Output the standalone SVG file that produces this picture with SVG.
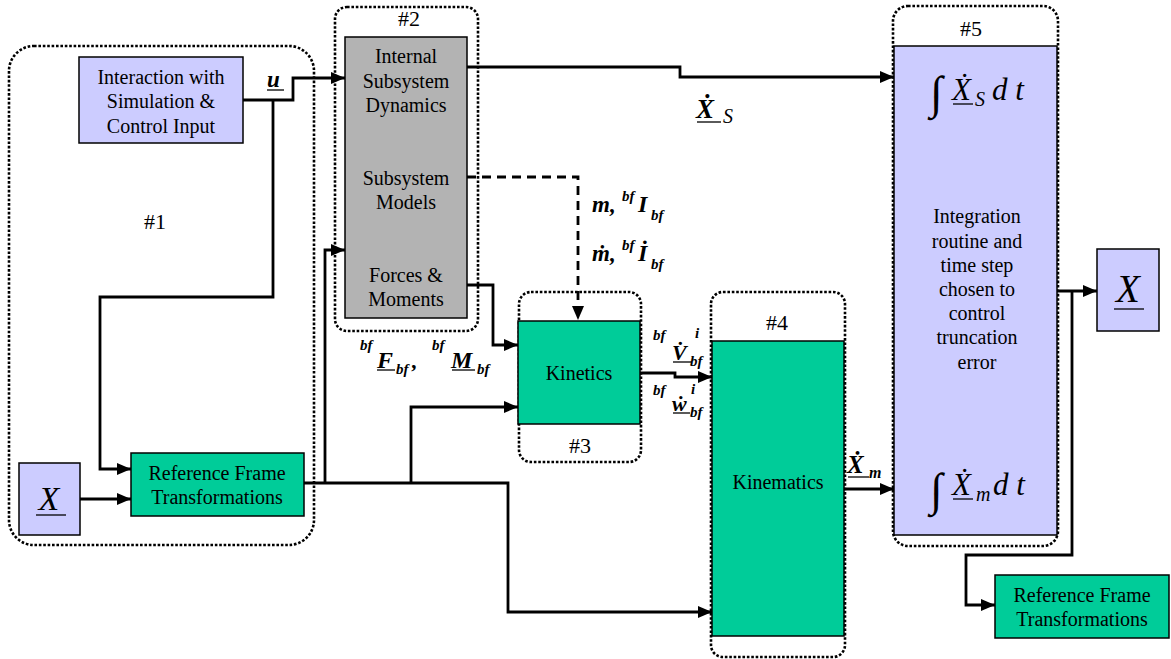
<svg xmlns="http://www.w3.org/2000/svg" width="1171" height="659" viewBox="0 0 1171 659">
<defs>
<marker id="ah" viewBox="0 0 14 12" refX="14" refY="6" markerWidth="14" markerHeight="12" markerUnits="userSpaceOnUse" orient="auto">
<path d="M0,0 L14,6 L0,12 z" fill="#000"/>
</marker>
</defs>
<style>
.dot{fill:none;stroke:#000;stroke-width:2.6;stroke-dasharray:2.6 1.8;}
.blue{fill:#CCCCFF;stroke:#000;stroke-width:1.5;}
.green{fill:#00CC99;stroke:#000;stroke-width:1.5;}
.gray{fill:#B3B3B3;stroke:#000;stroke-width:1.5;}
.t{font-family:"Liberation Serif","Times New Roman",serif;font-size:20px;fill:#000;text-anchor:middle;}
.lbl{font-family:"Liberation Serif","Times New Roman",serif;font-size:22px;fill:#000;text-anchor:middle;}
.m{font-family:"Liberation Serif","Times New Roman",serif;font-style:italic;fill:#000;}
.b{font-weight:bold;}
.c{fill:none;stroke:#000;stroke-width:2.8;}
.ul{stroke:#000;stroke-width:1.3;}
</style>

<g id="group1">
<rect class="dot" x="9" y="46" width="305" height="499" rx="25"/>
<text class="lbl" x="155" y="229">#1</text>
</g>
<g id="group2">
<rect class="dot" x="335" y="7" width="143" height="324" rx="12"/>
<text class="lbl" x="409" y="26">#2</text>
</g>
<g id="group3">
<rect class="dot" x="519" y="292" width="122" height="170" rx="12"/>
<text class="lbl" x="580" y="453">#3</text>
</g>
<g id="group4">
<rect class="dot" x="711" y="292" width="134" height="365" rx="12"/>
<text class="lbl" x="777" y="330">#4</text>
</g>
<g id="group5">
<rect class="dot" x="893" y="6" width="165" height="540" rx="15"/>
<text class="lbl" x="971" y="36">#5</text>
</g>

<g id="interaction">
<rect class="blue" x="79" y="57" width="164" height="86"/>
<text class="t" x="161" y="84">Interaction with</text>
<text class="t" x="161" y="108">Simulation &amp;</text>
<text class="t" x="161" y="133">Control Input</text>
</g>

<g id="xin">
<rect class="blue" x="19" y="463" width="61" height="72"/>
<text class="m" x="49" y="510" font-size="34" text-anchor="middle">X</text>
<line class="ul" x1="36" y1="515" x2="66" y2="515"/>
</g>

<g id="reftrans1">
<rect class="green" x="131" y="453" width="173" height="63"/>
<text class="t" x="217" y="480">Reference Frame</text>
<text class="t" x="217" y="504">Transformations</text>
</g>

<g id="subsystems">
<rect class="gray" x="345" y="37" width="122" height="281"/>
<text class="t" x="406" y="63">Internal</text>
<text class="t" x="406" y="88">Subsystem</text>
<text class="t" x="406" y="112">Dynamics</text>
<text class="t" x="406" y="185">Subsystem</text>
<text class="t" x="406" y="209">Models</text>
<text class="t" x="406" y="282">Forces &amp;</text>
<text class="t" x="406" y="306">Moments</text>
</g>

<g id="kinetics">
<rect class="green" x="518" y="321" width="122" height="103" stroke-width="2"/>
<text class="t" x="579" y="380">Kinetics</text>
</g>

<g id="kinematics">
<rect class="green" x="712" y="341" width="132" height="295" stroke-width="1"/>
<text class="t" x="778" y="489">Kinematics</text>
</g>

<g id="integration">
<rect class="blue" x="894" y="46" width="163" height="489" stroke-width="1"/>
<text class="m" x="930" y="108" font-size="46" font-style="normal">∫</text>
<text class="m" x="952" y="100" font-size="31">Ẋ</text>
<line class="ul" x1="953" y1="104" x2="973" y2="104"/>
<text class="m" x="975" y="106" font-size="20">S</text>
<text class="m" x="992" y="100" font-size="31">d t</text>
<text class="t" x="977" y="223">Integration</text>
<text class="t" x="977" y="248">routine and</text>
<text class="t" x="977" y="272">time step</text>
<text class="t" x="977" y="296">chosen to</text>
<text class="t" x="977" y="320">control</text>
<text class="t" x="977" y="344">truncation</text>
<text class="t" x="977" y="369">error</text>
<text class="m" x="930" y="505" font-size="46" font-style="normal">∫</text>
<text class="m" x="952" y="495" font-size="31">Ẋ</text>
<line class="ul" x1="953" y1="499" x2="973" y2="499"/>
<text class="m" x="976" y="501" font-size="20">m</text>
<text class="m" x="993" y="495" font-size="31">d t</text>
</g>

<g id="xout">
<rect class="blue" x="1097" y="249" width="62" height="82"/>
<text class="m" x="1128" y="302" font-size="39" text-anchor="middle">X</text>
<line class="ul" x1="1114" y1="309" x2="1144" y2="309"/>
</g>

<g id="reftrans2">
<rect class="green" x="995" y="575" width="174" height="63"/>
<text class="t" x="1082" y="602">Reference Frame</text>
<text class="t" x="1082" y="626">Transformations</text>
</g>

<g id="connectors">
<path class="c" d="M243,100 H293 V78 H345" marker-end="url(#ah)"/>
<path class="c" d="M273,100 V297 H100 V469 H131" marker-end="url(#ah)"/>
<path class="c" d="M80,499 H131" marker-end="url(#ah)"/>
<path class="c" d="M304,483 H508 V612 H712" marker-end="url(#ah)"/>
<path class="c" d="M325,483 V250 H345" marker-end="url(#ah)"/>
<path class="c" d="M411,483 V407 H518" marker-end="url(#ah)"/>
<path class="c" d="M467,285 H493 V345 H518" marker-end="url(#ah)"/>
<path class="c" d="M467,177 H578 V320" stroke-dasharray="9 6" marker-end="url(#ah)"/>
<path class="c" d="M467,67 H680 V77 H894" stroke-width="2.2" marker-end="url(#ah)"/>
<path class="c" d="M640,373 H675 V377 H712" marker-end="url(#ah)"/>
<path class="c" d="M844,489 H894" marker-end="url(#ah)"/>
<path class="c" d="M1057,291 H1097" marker-end="url(#ah)"/>
<path class="c" d="M1072,291 V555 H966 V605 H995" marker-end="url(#ah)"/>
</g>

<g id="labels">
<text class="m b" x="267" y="87" font-size="23">u</text>
<line class="ul" x1="267" y1="90" x2="284" y2="90" stroke-width="1.8"/>

<text class="m b" x="696" y="118" font-size="27">Ẋ</text>
<line class="ul" x1="697" y1="122" x2="721" y2="122" stroke-width="1.6"/>
<text class="m" x="723" y="123" font-size="20">S</text>

<text class="m b" x="847" y="473" font-size="25">Ẋ</text>
<line class="ul" x1="848" y1="477" x2="869" y2="477" stroke-width="1.6"/>
<text class="m b" x="869" y="478" font-size="16">m</text>

<text class="m b" x="592" y="212" font-size="23">m,</text>
<text class="m b" x="622" y="201" font-size="15">bf</text>
<text class="m b" x="638" y="212" font-size="24">I</text>
<text class="m b" x="651" y="220" font-size="15">bf</text>

<text class="m b" x="592" y="261" font-size="23">ṁ,</text>
<text class="m b" x="622" y="250" font-size="15">bf</text>
<text class="m b" x="638" y="261" font-size="24">İ</text>
<text class="m b" x="651" y="269" font-size="15">bf</text>

<text class="m b" x="360" y="350" font-size="15">bf</text>
<text class="m b" x="377" y="368" font-size="24">F</text>
<line class="ul" x1="377" y1="370" x2="395" y2="370" stroke-width="1.6"/>
<text class="m b" x="396" y="374" font-size="15">bf</text>
<text class="m b" x="412" y="368" font-size="22">,</text>
<text class="m b" x="432" y="350" font-size="15">bf</text>
<text class="m b" x="451" y="368" font-size="24">M</text>
<line class="ul" x1="452" y1="370" x2="475" y2="370" stroke-width="1.6"/>
<text class="m b" x="477" y="374" font-size="15">bf</text>

<text class="m b" x="653" y="340" font-size="15">bf</text>
<text class="m b" x="672" y="360" font-size="22">V̇</text>
<line class="ul" x1="673" y1="362" x2="692" y2="362" stroke-width="1.6"/>
<text class="m b" x="695" y="338" font-size="15">i</text>
<text class="m b" x="690" y="366" font-size="15">bf</text>

<text class="m b" x="653" y="395" font-size="15">bf</text>
<text class="m b" x="672" y="411" font-size="22">ẇ</text>
<line class="ul" x1="673" y1="413" x2="690" y2="413" stroke-width="1.6"/>
<text class="m b" x="691" y="394" font-size="15">i</text>
<text class="m b" x="690" y="417" font-size="15">bf</text>
</g>
</svg>
